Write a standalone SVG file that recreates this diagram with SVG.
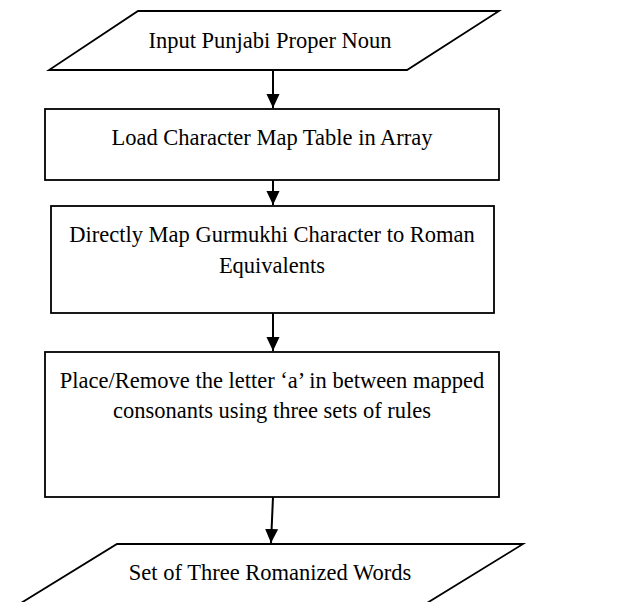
<svg xmlns="http://www.w3.org/2000/svg" width="619" height="602" viewBox="0 0 619 602">
<style>
.s{fill:#fff;stroke:#000;stroke-width:1.8}
.t{font-family:"Liberation Serif","Times New Roman",serif;font-size:22.5px;fill:#000;text-anchor:middle}
.c{stroke:#000;stroke-width:2;fill:none}
</style>
<defs>
<marker id="ah" markerWidth="14" markerHeight="15" refX="15" refY="7" orient="auto" markerUnits="userSpaceOnUse" viewBox="0 0 15 14">
<path d="M0,0 L15,7 L0,14 Z" fill="#000"/>
</marker>
</defs>
<rect width="619" height="602" fill="#fff"/>
<g id="n1">
<polygon class="s" points="138,11 499,11 407,70 49,70"/>
<text class="t" x="270" y="48">Input Punjabi Proper Noun</text>
</g>
<g id="n2">
<rect class="s" x="45" y="109" width="454" height="71"/>
<text class="t" x="272" y="145">Load Character Map Table in Array</text>
</g>
<g id="n3">
<rect class="s" x="51" y="206" width="443" height="107"/>
<text class="t" x="272" y="242">Directly Map Gurmukhi Character to Roman</text>
<text class="t" x="272" y="273">Equivalents</text>
</g>
<g id="n4">
<rect class="s" x="45" y="352" width="454" height="145"/>
<text class="t" x="272" y="388">Place/Remove the letter ‘a’ in between mapped</text>
<text class="t" x="272" y="418">consonants using three sets of rules</text>
</g>
<g id="n5">
<polygon class="s" points="117,544 523,544 427,603 21,603"/>
<text class="t" x="270" y="580">Set of Three Romanized Words</text>
</g>
<g id="connectors">
<line class="c" x1="273" y1="70" x2="273" y2="108" marker-end="url(#ah)"/>
<line class="c" x1="273" y1="180" x2="273" y2="205" marker-end="url(#ah)"/>
<line class="c" x1="273" y1="313" x2="273" y2="351" marker-end="url(#ah)"/>
<line class="c" x1="273" y1="497" x2="271" y2="543" marker-end="url(#ah)"/>
</g>
</svg>
